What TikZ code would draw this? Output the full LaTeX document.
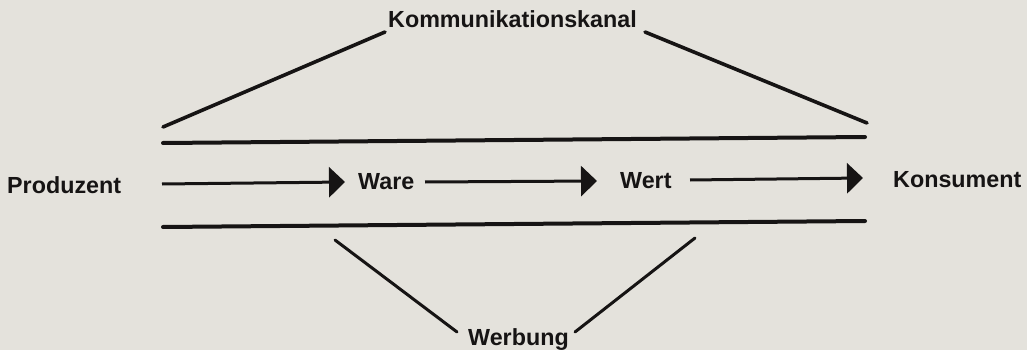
\documentclass[tikz,border=0pt]{standalone}
\usepackage{fontspec}
\setmainfont{Liberation Sans}
\usetikzlibrary{arrows.meta}
\definecolor{bg}{RGB}{228,226,220}
\definecolor{ink}{RGB}{22,20,20}
\tikzset{
  lbl/.style={anchor=base west, inner sep=0pt, text=ink, font=\fontsize{23.3}{26}\selectfont\bfseries},
  chan/.style={draw=ink, line width=4pt, line cap=round},
  slant/.style={draw=ink, line width=3.6pt, line cap=round},
  wline/.style={draw=ink, line width=3pt, line cap=round},
  flow/.style={draw=ink, line width=3pt, -{Triangle[length=16pt,width=30pt]}},
}
\begin{document}
\begin{tikzpicture}[x=1pt,y=-1pt]
  \fill[bg] (0,0) rectangle (1027,350);
  \useasboundingbox (0,0) rectangle (1027,350);

  % labels
  \node[lbl] (komm) at (388,28) {Kommunikationskanal};
  \node[lbl] (prod) at (7,193) {Produzent};
  \node[lbl] (ware) at (358,189) {Ware};
  \node[lbl] (wert) at (620,188) {Wert};
  \node[lbl] (kons) at (893,187) {Konsument};
  \node[lbl] (werb) at (468,345) {Werbung};

  % channel coordinates
  \coordinate (tl) at (163,143);
  \coordinate (tr) at (865,137);
  \coordinate (bl) at (163,227);
  \coordinate (br) at (865,221);
  \coordinate (kl0) at (163,127);
  \coordinate (kl1) at (385,32);
  \coordinate (kr0) at (645,32);
  \coordinate (kr1) at (867,123);
  \coordinate (wl0) at (335,240);
  \coordinate (wl1) at (457,332);
  \coordinate (wr0) at (695,238);
  \coordinate (wr1) at (575,332);
  \coordinate (a1s) at (162,184);
  \coordinate (a1e) at (345,182);
  \coordinate (a2s) at (425,182);
  \coordinate (a2e) at (597,181);
  \coordinate (a3s) at (690,180);
  \coordinate (a3e) at (863,178);

  % channel lines
  \draw[chan] (tl) -- (tr);
  \draw[chan] (bl) -- (br);
  \draw[slant] (kl0) -- (kl1);
  \draw[slant] (kr0) -- (kr1);
  \draw[wline] (wl0) -- (wl1);
  \draw[wline] (wr0) -- (wr1);

  % flow arrows
  \draw[flow] (a1s) -- (a1e);
  \draw[flow] (a2s) -- (a2e);
  \draw[flow] (a3s) -- (a3e);
\end{tikzpicture}
\end{document}
